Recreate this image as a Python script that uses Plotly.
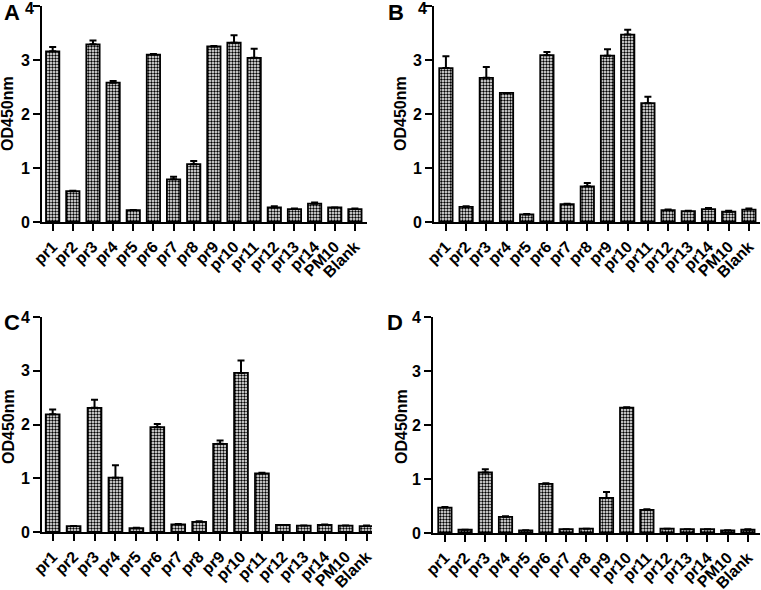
import plotly.graph_objects as go

categories = ["pr1", "pr2", "pr3", "pr4", "pr5", "pr6", "pr7", "pr8", "pr9",
              "pr10", "pr11", "pr12", "pr13", "pr14", "PM10", "Blank"]

# Panel A
a_vals = [3.16, 0.57, 3.29, 2.58, 0.22, 3.10, 0.79, 1.07, 3.25, 3.32, 3.04, 0.27, 0.24, 0.34, 0.27, 0.24]
a_err = [0.08, 0.01, 0.07, 0.03, 0.0, 0.01, 0.05, 0.06, 0.01, 0.14, 0.17, 0.02, 0.01, 0.02, 0.0, 0.01]
# Panel B
b_vals = [2.85, 0.28, 2.67, 2.39, 0.14, 3.09, 0.33, 0.66, 3.08, 3.47, 2.20, 0.22, 0.20, 0.24, 0.19, 0.23]
b_err = [0.22, 0.01, 0.20, 0.0, 0.01, 0.06, 0.01, 0.06, 0.12, 0.09, 0.12, 0.01, 0.01, 0.02, 0.02, 0.02]
# Panel C
c_vals = [2.19, 0.11, 2.31, 1.01, 0.07, 1.95, 0.14, 0.19, 1.64, 2.96, 1.09, 0.13, 0.12, 0.13, 0.12, 0.11]
c_err = [0.09, 0.0, 0.15, 0.23, 0.01, 0.06, 0.01, 0.01, 0.06, 0.23, 0.01, 0.0, 0.0, 0.01, 0.0, 0.01]
# Panel D
d_vals = [0.47, 0.06, 1.12, 0.30, 0.05, 0.91, 0.07, 0.08, 0.65, 2.32, 0.43, 0.08, 0.07, 0.07, 0.05, 0.06]
d_err = [0.01, 0.0, 0.06, 0.01, 0.0, 0.01, 0.0, 0.0, 0.11, 0.01, 0.01, 0.0, 0.0, 0.0, 0.0, 0.01]

panel_letters = ["A", "B", "C", "D"]
y_ticks = [0, 1, 2, 3, 4]
y_ticktext = ["0", "1", "2", "3", "4"]

W, H = 761, 590
# pixel geometry of each plot area: (x0, x1, ytop, ybottom) and category range
boxes = [(42, 367, 6, 222), (434, 760, 6, 222), (42, 372, 317, 532), (433, 760, 317, 533)]
xranges = [[-0.53, 15.6], [-0.59, 15.55], [-0.51, 15.26], [-0.59, 15.6]]
letter_pos = [(12, 12), (396, 12), (12, 323), (395, 323)]
ytitle_pos = [(8, 114), (401, 114), (8, 427), (401, 427)]
# top panels: the "4" label sits slightly below its tick (as in the reference)
top_four_pos = {0: (29, 9), 1: (422, 9)}

FONT = "Liberation Sans"
fig = go.Figure()
series = [(a_vals, a_err), (b_vals, b_err), (c_vals, c_err), (d_vals, d_err)]
for i, (vals, errs) in enumerate(series):
    n = i + 1
    xa = "x" if n == 1 else f"x{n}"
    ya = "y" if n == 1 else f"y{n}"
    fig.add_trace(go.Bar(
        x=categories, y=vals, xaxis=xa, yaxis=ya,
        marker=dict(color="white",
                    line=dict(color="black", width=1.8),
                    pattern=dict(shape=".", fgcolor="black", bgcolor="white",
                                 fgopacity=1, size=3, solidity=0.5,
                                 fillmode="replace")),
        error_y=dict(type="data", array=errs, arrayminus=[0] * len(errs),
                     symmetric=False, color="black", thickness=2, width=3.5),
        showlegend=False,
    ))
    x0, x1, yt, yb = boxes[i]
    xdom = [x0 / W, x1 / W]
    ydom = [(H - yb) / H, (H - yt) / H]
    xkey = "xaxis" if n == 1 else f"xaxis{n}"
    ykey = "yaxis" if n == 1 else f"yaxis{n}"
    ttext = list(y_ticktext)
    if i in top_four_pos:
        ttext[-1] = ""
    fig.update_layout({
        xkey: dict(domain=xdom, anchor=ya, type="category", range=xranges[i],
                   automargin=False, ticklabeloverflow="allow",
                   showline=True, linecolor="black", linewidth=2,
                   ticks="outside", ticklen=7, tickwidth=2, tickcolor="black",
                   tickangle=-45, showgrid=False, zeroline=False,
                   tickfont=dict(family=FONT, size=16, color="black", weight="bold")),
        ykey: dict(domain=ydom, anchor=xa, range=[0, 4], tickvals=y_ticks,
                   ticktext=ttext,
                   automargin=False, ticklabeloverflow="allow",
                   showline=True, linecolor="black", linewidth=2,
                   ticks="outside", ticklen=7, tickwidth=2, tickcolor="black",
                   showgrid=False, zeroline=False,
                   tickfont=dict(family=FONT, size=16, color="black", weight="bold")),
    })
    if i in top_four_pos:
        fx, fy = top_four_pos[i]
        fig.add_annotation(x=fx / W, y=(H - fy) / H, xref="paper", yref="paper",
                           xanchor="center", yanchor="middle",
                           text=y_ticktext[-1], showarrow=False,
                           font=dict(family=FONT, size=16, color="black", weight="bold"))
    lx, ly = letter_pos[i]
    fig.add_annotation(x=lx / W, y=(H - ly) / H, xref="paper", yref="paper",
                       xanchor="center", yanchor="middle",
                       text=panel_letters[i], showarrow=False,
                       font=dict(family=FONT, size=22, color="black", weight="bold"))
    tx, ty = ytitle_pos[i]
    fig.add_annotation(x=tx / W, y=(H - ty) / H, xref="paper", yref="paper",
                       xanchor="center", yanchor="middle",
                       text="OD450nm", showarrow=False, textangle=-90,
                       font=dict(family=FONT, size=16, color="black", weight="bold"))

fig.update_layout(width=W, height=H, margin=dict(l=0, r=0, t=0, b=0),
                  paper_bgcolor="white", plot_bgcolor="white", bargap=0.34)
fig.write_html("out.html", config={"displayModeBar": False},
               post_script="document.body.style.margin='0';")
